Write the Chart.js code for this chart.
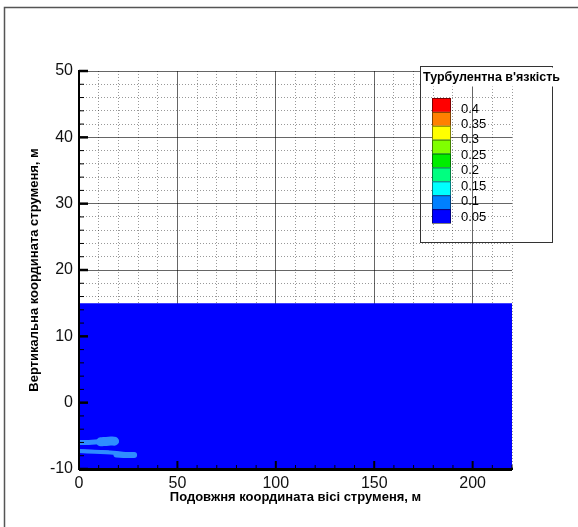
<!DOCTYPE html>
<html>
<head>
<meta charset="utf-8">
<script src="https://cdn.jsdelivr.net/npm/chart.js@4.4.0/dist/chart.umd.min.js"></script>
<style>
  html, body { margin:0; padding:0; background:#fff; }
  #wrap { width:578px; height:527px; }
</style>
</head>
<body>
<div id="wrap"><canvas id="chart" width="578" height="527"></canvas></div>
<script>
// labelled ticks
const xTicks = [0, 50, 100, 150, 200]
const yTicks = [-10, 0, 10, 20, 30, 40, 50]

// background field (0.05 level) up to the surface
const fieldX = [0, 220]
const fieldTop = [15, 15]

// jet streaks near the bottom
const upperJetX = [0, 5, 10, 15, 19]
const upperJetY = [-6.0, -6.0, -5.9, -5.8, -5.8]
const upperBlobX = [11, 15, 18]
const upperBlobY = [-5.9, -5.8, -5.8]
const lowerJetX = [0, 8, 16, 22, 28]
const lowerJetY = [-7.3, -7.4, -7.5, -7.7, -7.8]
const lowerBlobX = [19, 24, 28]
const lowerBlobY = [-7.8, -7.9, -7.9]
const upperCoreX = [0, 4, 8]
const upperCoreY = [-6.1, -6.1, -6.0]
const lowerCoreX = [0, 8, 15]
const lowerCoreY = [-7.2, -7.3, -7.4]

// legend levels
const levelTitle = "Турбулентна в'язкість"
const levelLabels = ['0.4', '0.35', '0.3', '0.25', '0.2', '0.15', '0.1', '0.05']
const levelColors = ['#ff0000', '#ff8000', '#ffff00', '#80ff00', '#00ee00', '#00ff80', '#00ffff', '#0080ff', '#0000ff']

const FONT = "'Liberation Sans', Arial, sans-serif"

function pts(xs, ys){
  return xs.map((x, i) => ({x: x, y: ys[i]}))
}

function streak(xs, ys, color, width){
  return {
    data: pts(xs, ys),
    showLine: true,
    borderColor: color,
    borderWidth: width,
    borderCapStyle: 'round',
    pointRadius: 0,
    fill: false,
    tension: 0.4,
    order: 1
  }
}

const isMinor = (ctx, major) => ctx.tick && (ctx.tick.value % major) !== 0

// inner tick marks + frame + level legend
const decorations = {
  id: 'decorations',
  afterDraw(chart){
    const c = chart.ctx
    const xs = chart.scales.x, ys = chart.scales.y
    const area = chart.chartArea
    c.save()
    c.strokeStyle = '#000'
    xs.ticks.forEach(t => {
      const px = xs.getPixelForValue(t.value)
      const major = t.value % 50 === 0
      c.lineWidth = major ? 2 : 1
      c.beginPath()
      c.moveTo(px, area.bottom)
      c.lineTo(px, area.bottom - (major ? 8 : 4))
      c.stroke()
    })
    ys.ticks.forEach(t => {
      const py = ys.getPixelForValue(t.value)
      const major = t.value % 10 === 0
      c.lineWidth = major ? 2.5 : 1
      c.beginPath()
      c.moveTo(area.left, py)
      c.lineTo(area.left + (major ? 9 : 5), py)
      c.stroke()
    })
    // thicker bottom axis
    c.lineWidth = 3
    c.beginPath()
    c.moveTo(area.left, area.bottom + 0.5)
    c.lineTo(area.right, area.bottom + 0.5)
    c.stroke()

    // frame
    c.strokeStyle = '#555'
    c.lineWidth = 1.5
    c.beginPath()
    c.moveTo(4.5, 527)
    c.lineTo(4.5, 7.5)
    c.lineTo(578, 7.5)
    c.stroke()

    // legend box
    c.strokeStyle = '#333'
    c.lineWidth = 1
    c.strokeRect(420.5, 66.5, 132, 176)
    c.fillStyle = '#fff'
    c.fillRect(421, 67.5, 140, 19)
    c.fillStyle = '#000'
    c.font = 'bold 12.5px ' + FONT
    c.textBaseline = 'middle'
    c.textAlign = 'left'
    c.fillText(levelTitle, 423, 78)

    const bx = 432, by = 98, bw = 19, bh = 125 / levelColors.length
    levelColors.forEach((col, i) => {
      c.fillStyle = col
      c.fillRect(bx, by + i * bh, bw, bh)
      c.strokeStyle = 'rgba(0,0,0,0.5)'
      c.strokeRect(bx + 0.5, by + i * bh + 0.5, bw - 1, bh)
    })
    c.fillStyle = '#000'
    c.font = '13px ' + FONT
    levelLabels.forEach((lab, i) => {
      c.fillText(lab, 461, 109 + i * (108 / 7))
    })
    c.restore()
  }
}

new Chart(document.getElementById('chart'), {
  type: 'scatter',
  data: {
    datasets: [
      {
        data: pts(fieldX, fieldTop),
        showLine: true,
        borderWidth: 0,
        borderColor: 'rgba(0,0,0,0)',
        backgroundColor: '#0000ff',
        pointRadius: 0,
        fill: 'start',
        order: 10
      },
      streak(upperJetX, upperJetY, '#2f8dff', 5),
      streak(upperBlobX, upperBlobY, '#2f8dff', 9),
      streak(lowerJetX, lowerJetY, '#2f8dff', 4),
      streak(lowerBlobX, lowerBlobY, '#2f8dff', 6),
      streak(upperCoreX, upperCoreY, '#7fe0ff', 2),
      streak(lowerCoreX, lowerCoreY, '#7fe0ff', 2)
    ]
  },
  options: {
    responsive: false,
    devicePixelRatio: 1,
    animation: false,
    layout: { padding: { top: 71, right: 66, left: 0, bottom: 0 } },
    plugins: {
      legend: { display: false },
      tooltip: { enabled: false }
    },
    scales: {
      x: {
        type: 'linear',
        min: 0,
        max: 220,
        afterFit: s => { s.height = 58 },
        ticks: {
          stepSize: 10,
          autoSkip: false,
          maxRotation: 0,
          padding: 5,
          color: '#111',
          font: { family: FONT, size: 16 },
          callback: v => xTicks.includes(v) ? v : ''
        },
        grid: {
          drawTicks: false,
          lineWidth: 1,
          color: ctx => isMinor(ctx, 50) ? 'rgba(0,0,0,0.4)' : 'rgba(0,0,0,0.6)'
        },
        border: {
          color: '#000',
          width: 2,
          z: 2,
          dash: ctx => isMinor(ctx, 50) ? [1, 2] : []
        },
        title: {
          display: true,
          text: 'Подовжня координата вісі струменя, м',
          color: '#000',
          font: { family: FONT, size: 13, weight: 'bold' },
          padding: { top: 0, bottom: 22 }
        }
      },
      y: {
        type: 'linear',
        min: -10,
        max: 50,
        afterFit: s => { s.width = 79 },
        ticks: {
          stepSize: 2,
          autoSkip: false,
          padding: 6,
          color: '#111',
          font: { family: FONT, size: 16 },
          callback: v => yTicks.includes(v) ? v : ''
        },
        grid: {
          drawTicks: false,
          lineWidth: 1,
          color: ctx => isMinor(ctx, 10) ? 'rgba(0,0,0,0.4)' : 'rgba(0,0,0,0.6)'
        },
        border: {
          color: '#000',
          width: 2,
          z: 2,
          dash: ctx => isMinor(ctx, 10) ? [1, 2] : []
        },
        title: {
          display: true,
          text: 'Вертикальна координата струменя, м',
          color: '#000',
          font: { family: FONT, size: 13, weight: 'bold' },
          padding: { top: 27, bottom: 0 }
        }
      }
    }
  },
  plugins: [decorations]
})
</script>
</body>
</html>
